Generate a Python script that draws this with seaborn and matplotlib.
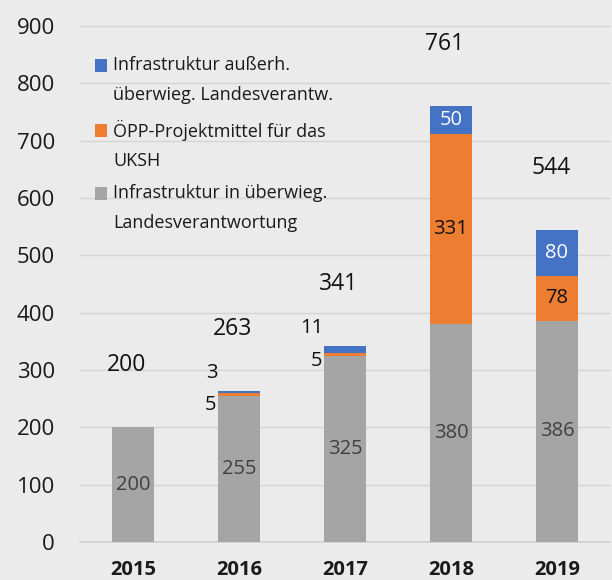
import matplotlib
matplotlib.use("Agg")
import matplotlib.pyplot as plt
from matplotlib.patches import Rectangle
import seaborn as sns
import pandas as pd

# data
years = ["2015", "2016", "2017", "2018", "2019"]
in_land = [200, 255, 325, 380, 386]      # Infrastruktur in überwieg. Landesverantwortung
oepp = [0, 5, 5, 331, 78]                # ÖPP-Projektmittel für das UKSH
ausserh = [0, 3, 11, 50, 80]             # Infrastruktur außerh. überwieg. Landesverantw.
totals = [200, 263, 341, 761, 544]

legend_labels = [
    "Infrastruktur außerh.\nüberwieg. Landesverantw.",
    "ÖPP-Projektmittel für das\nUKSH",
    "Infrastruktur in überwieg.\nLandesverantwortung",
]

BLUE = "#4472C4"
ORANGE = "#ED7D31"
GRAY = "#A5A5A5"
BG = "#EBEBEB"

sns.set_theme(style="white")
plt.rcParams["font.family"] = ["Open Sans", "DejaVu Sans"]

df = pd.DataFrame({"year": years, "gray": in_land, "orange": oepp, "blue": ausserh})
df["cum_orange"] = df["gray"] + df["orange"]
df["cum_blue"] = df["cum_orange"] + df["blue"]

fig = plt.figure(figsize=(6.12, 5.80), dpi=100, facecolor=BG)
ax = fig.add_axes([80 / 612, 38 / 580, 530 / 612, 542 / 580])
ax.set_facecolor(BG)

# stacked bars: draw cumulative heights from the top down
bar_kw = dict(width=0.4, saturation=1, linewidth=0, ax=ax, zorder=3)
sns.barplot(data=df, x="year", y="cum_blue", color=BLUE, **bar_kw)
sns.barplot(data=df, x="year", y="cum_orange", color=ORANGE, **bar_kw)
sns.barplot(data=df, x="year", y="gray", color=GRAY, **bar_kw)

ax.set_xlim(-0.5, 4.5)
ax.set_ylim(0, 945)
ax.set_yticks(range(0, 901, 100))
ax.set_xlabel("")
ax.set_ylabel("")
ax.grid(axis="y", color="#D4D4D4", linewidth=1.0, zorder=0)
for s in ["left", "right", "top"]:
    ax.spines[s].set_visible(False)
ax.spines["bottom"].set_color("#D0D0D0")
ax.spines["bottom"].set_linewidth(1.2)
ax.tick_params(axis="y", length=0, pad=18, labelsize=16, labelcolor="#1a1a1a")
ax.tick_params(axis="x", length=0, pad=13, labelsize=14.5, labelcolor="#1a1a1a")
for lbl in ax.get_xticklabels():
    lbl.set_fontweight("bold")

# segment labels
for i in range(len(years)):
    g, o, b, t = in_land[i], oepp[i], ausserh[i], totals[i]
    ax.text(i, g / 2, str(g), ha="center", va="center", fontsize=14.5, color="#404040", zorder=4)
    if o >= 50:
        ax.text(i, g + o / 2, str(o), ha="center", va="center", fontsize=14.5, color="#111111", zorder=4)
        ax.text(i, g + o + b / 2, str(b), ha="center", va="center", fontsize=14.5, color="white", zorder=4)
    elif o > 0:
        ax.text(i - 0.205, t + 32, str(b), ha="right", va="center", fontsize=14.5, color="#111111", zorder=4)
        ax.text(i - 0.215, t - 25, str(o), ha="right", va="center", fontsize=14.5, color="#111111", zorder=4)
    ax.text(i - 0.06, t + 108, str(t), ha="center", va="center", fontsize=16.5, color="#111111", zorder=4)

# legend drawn by hand so the square sits on the first text line
for col, lab, yc in zip([BLUE, ORANGE, GRAY], legend_labels, [65, 130, 193]):
    fig.patches.append(Rectangle((95 / 612, 1 - (yc + 6.5) / 580), 12 / 612, 13 / 580,
                                 transform=fig.transFigure, facecolor=col, edgecolor="none"))
    fig.text(113 / 612, 1 - (yc + 15) / 580, lab, ha="left", va="center", fontsize=13,
             linespacing=1.84, color="#1a1a1a")

fig.savefig("out.png", dpi=100, facecolor=BG)
